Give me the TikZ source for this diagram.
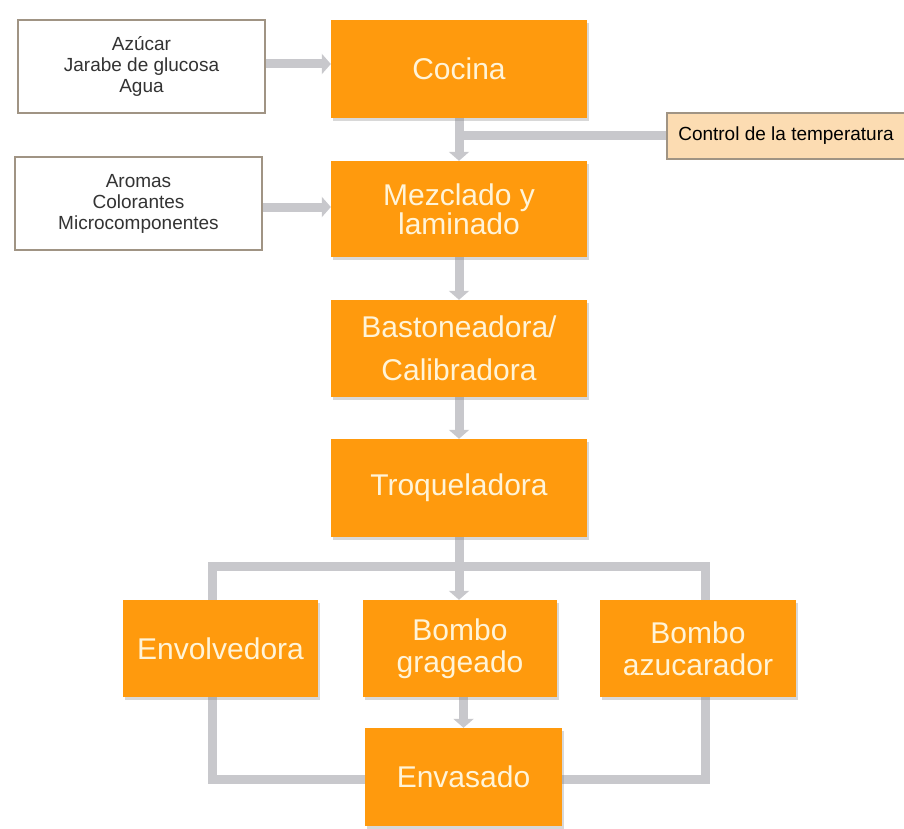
\documentclass[tikz,border=0pt]{standalone}
\usepackage{fontspec}
\setmainfont{Liberation Sans}
\usetikzlibrary{arrows.meta,shadows}
\definecolor{orng}{HTML}{FF9A0D}
\definecolor{txtc}{HTML}{FFF4D8}
\definecolor{connc}{HTML}{C8C8CC}
\definecolor{inbd}{HTML}{A09484}
\definecolor{ctrlf}{HTML}{FCDCB2}
\definecolor{intxt}{HTML}{333333}
\pgfdeclarelayer{bg}
\pgfsetlayers{bg,main}
\begin{document}
\begin{tikzpicture}[x=1pt,y=-1pt,
  proc/.style={fill=orng, text=txtc, align=center, inner sep=0pt,
    font=\fontsize{30}{32}\selectfont,
    drop shadow={shadow xshift=2pt, shadow yshift=-3pt, opacity=0.3}},
  inbox/.style={draw=inbd, line width=1.2pt, fill=white, align=center, inner sep=0pt,
    text=intxt, font=\fontsize{19}{21}\selectfont},
  flow/.style={draw=connc, line width=9pt},
  flowar/.style={flow, -{Triangle[width=20pt,length=9pt]}}
]
\useasboundingbox (0,0) rectangle (904,829);

% input boxes
\node[inbox, minimum width=247pt, minimum height=93pt] (in1) at (141.5,66.5)
  {Azúcar\\Jarabe de glucosa\\Agua};
\node[inbox, minimum width=247pt, minimum height=93pt] (in2) at (138.5,203.5)
  {Aromas\\Colorantes\\Microcomponentes};
\node[inbox, fill=ctrlf, text=black, minimum width=238pt, minimum height=46pt,
  font=\fontsize{19}{21}\selectfont] (ctrl) at (786,136) {Control de la temperatura};

% process boxes
\node[proc, minimum width=256pt, minimum height=98pt] (coc) at (459,69) {Cocina};
\node[proc, minimum width=256pt, minimum height=96pt, font=\fontsize{30}{29}\selectfont] (mez) at (459,209) {Mezclado y\\laminado};
\node[proc, minimum width=256pt, minimum height=97pt, font=\fontsize{30}{43}\selectfont] (bas) at (459,348.5) {Bastoneadora/\\Calibradora};
\node[proc, minimum width=256pt, minimum height=98pt] (tro) at (459,488) {Troqueladora};
\node[proc, minimum width=195pt, minimum height=97pt] (env) at (220.5,648.5) {Envolvedora};
\node[proc, minimum width=194pt, minimum height=97pt] (gra) at (460,648.5) {Bombo\\grageado};
\node[proc, minimum width=196pt, minimum height=97pt] (azu) at (698,648.5) {Bombo\\azucarador};
\node[proc, minimum width=197pt, minimum height=98pt] (eva) at (463.5,777) {Envasado};

\coordinate (bl) at (212,566);
\coordinate (br) at (705,566);

\begin{pgfonlayer}{bg}
\fill[white] (0,0) rectangle (904,829);
\draw[flowar] (in1.east |- 0,64) -- (coc.west |- 0,64);
\draw[flowar] (in2.east |- 0,207) -- (mez.west |- 0,207);
\draw[flowar] (coc.south) -- (mez.north);
\draw[flow] (ctrl.west) -- (ctrl.west -| coc.south);
\draw[flowar] (mez.south) -- (bas.north);
\draw[flowar] (bas.south) -- (tro.north);
\draw[flowar] (tro.south) -- (tro.south |- gra.north);
\draw[flow, line join=miter] (eva.west |- 0,779) -| (bl) -- (br) |- (eva.east |- 0,779);
\draw[flowar] (eva.north |- gra.south) -- (eva.north);
\end{pgfonlayer}
\end{tikzpicture}
\end{document}
